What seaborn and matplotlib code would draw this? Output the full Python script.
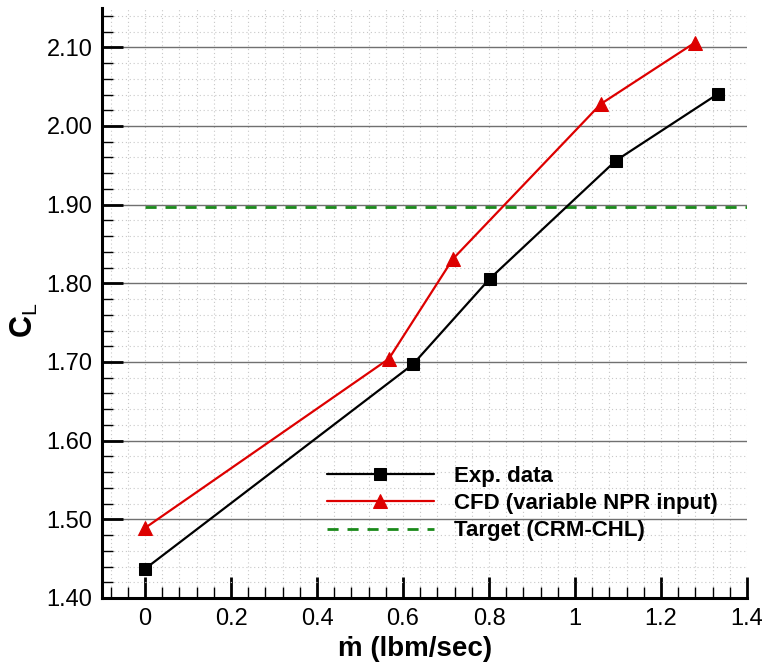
import matplotlib
matplotlib.use("Agg")
import matplotlib.pyplot as plt
import seaborn as sns
import pandas as pd
import numpy as np
from matplotlib.ticker import MultipleLocator, FixedLocator

exp_x = [0.0, 0.623, 0.802, 1.095, 1.333]
exp_y = [1.437, 1.697, 1.806, 1.956, 2.041]
cfd_x = [0.0, 0.567, 0.716, 1.060, 1.279]
cfd_y = [1.489, 1.704, 1.831, 2.028, 2.106]
target_x = [0.0, 1.4]
target_y = [1.897, 1.897]
labels = ["Exp. data", "CFD (variable NPR input)", "Target (CRM-CHL)"]

sns.set_style("white")
plt.rcParams['font.family'] = ['Liberation Sans', 'DejaVu Sans']
plt.rcParams['mathtext.fontset'] = 'custom'
plt.rcParams['mathtext.rm'] = 'Liberation Sans'
plt.rcParams['mathtext.bf'] = 'Liberation Sans:bold'
plt.rcParams['text.color'] = 'black'
plt.rcParams['axes.labelcolor'] = 'black'

fig = plt.figure(figsize=(7.67, 6.64), dpi=100)
ax = fig.add_axes([102/767, 1-598/664, (747-102)/767, (598-8)/664])

df_exp = pd.DataFrame({"x": exp_x, "y": exp_y})
df_cfd = pd.DataFrame({"x": cfd_x, "y": cfd_y})
df_tgt = pd.DataFrame({"x": target_x, "y": target_y})

sns.lineplot(data=df_exp, x="x", y="y", ax=ax, color="black", lw=1.6,
             marker="s", markersize=8, markeredgecolor="black", label=labels[0], zorder=5, sort=False)
sns.lineplot(data=df_cfd, x="x", y="y", ax=ax, color="#dd0000", lw=1.6,
             marker="^", markersize=10, markeredgecolor="#dd0000", label=labels[1], zorder=5, sort=False)
sns.lineplot(data=df_tgt, x="x", y="y", ax=ax, color="#1a8a1a", lw=2.0,
             linestyle=(0, (4, 3.2)), label=labels[2], zorder=4, sort=False)

ax.set_xlim(-0.1, 1.4)
ax.set_ylim(1.40, 2.15)
ax.xaxis.set_major_locator(FixedLocator([0, 0.2, 0.4, 0.6, 0.8, 1.0, 1.2, 1.4]))
ax.set_xticklabels(["0", "0.2", "0.4", "0.6", "0.8", "1", "1.2", "1.4"])
ax.xaxis.set_minor_locator(MultipleLocator(0.04))
ax.yaxis.set_major_locator(FixedLocator([1.4, 1.5, 1.6, 1.7, 1.8, 1.9, 2.0, 2.1]))
ax.set_yticklabels(["1.40", "1.50", "1.60", "1.70", "1.80", "1.90", "2.00", "2.10"])
ax.yaxis.set_minor_locator(MultipleLocator(0.02))

ax.grid(which="minor", color="#c8c8c8", lw=0.8, linestyle=(0, (1, 2.5)))
ax.grid(which="major", axis="x", color="#c8c8c8", lw=0.8, linestyle=(0, (1, 2.5)))
ax.grid(which="major", axis="y", color="#707070", lw=1.0, linestyle="-")
ax.set_axisbelow(True)

for s in ["top", "right"]:
    ax.spines[s].set_visible(False)
for s in ["left", "bottom"]:
    ax.spines[s].set_linewidth(2.2)
    ax.spines[s].set_color("black")

ax.tick_params(which="major", direction="in", length=15, width=2, labelsize=17, pad=7,
               colors="black", labelcolor="black")
ax.tick_params(which="minor", direction="in", length=8, width=1, colors="black")
ax.tick_params(axis="both", which="both", bottom=True, left=True)

ax.set_xlabel("ṁ (lbm/sec)", fontsize=20, fontweight="bold", labelpad=4, color="black")
ax.xaxis.set_label_coords(0.485, -0.065)
ax.set_ylabel("C$_\\mathrm{L}$", fontsize=22, fontweight="bold", color="black")
ax.yaxis.set_label_coords(-0.096, 0.47)

leg = ax.legend(loc="upper left", bbox_to_anchor=(318/767, 1-457/664), bbox_transform=fig.transFigure,
                frameon=False, prop={"size": 16, "weight": "bold"}, handlelength=4.8,
                handletextpad=0.9, labelspacing=0.28, borderaxespad=0)
for t in leg.get_texts():
    t.set_color("black")

fig.savefig("out.png", dpi=100)
